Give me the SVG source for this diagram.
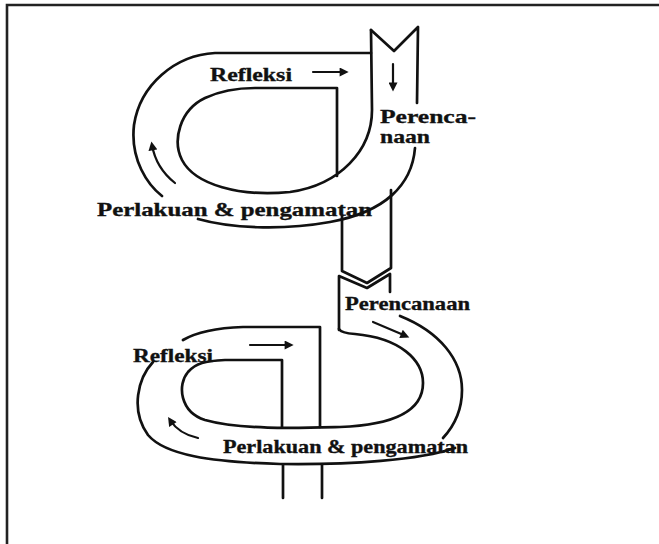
<svg xmlns="http://www.w3.org/2000/svg" width="659" height="544" viewBox="0 0 659 544">
<style>
.ln{fill:none;stroke:#111;stroke-width:2.7;stroke-linecap:round;stroke-linejoin:round}
.ar{fill:none;stroke:#111;stroke-width:2.2;stroke-linecap:round}
.fr{fill:none;stroke:#222;stroke-width:2.6}
.tx{font-family:"Liberation Serif","Times New Roman",serif;font-weight:bold;font-size:19px;fill:#111;stroke:#111;stroke-width:0.35}
</style>
<defs>
<marker id="ah" viewBox="0 0 10 10" refX="6" refY="5" markerWidth="10" markerHeight="9" markerUnits="userSpaceOnUse" orient="auto">
<path d="M0,0 L10,5 L0,10 Z" fill="#111"/>
</marker>
</defs>
<rect width="659" height="544" fill="#fff"/>
<g id="frame">
<path class="fr" d="M7,544 L7,5 L659,5"/>
</g>
<g id="connectors">
<!-- upper loop -->
<path class="ln" d="M371,30 L394,51 L418,27 L417,103"/>
<path class="ln" d="M371,30 L372,110 C372,150 340,185 290,192 C240,197 195,185 182,160 C172,140 180,110 205,98 C220,91 235,88 255,88 L337,88 L337,176"/>
<path class="ln" d="M371,53 L215,53 C175,55 140,85 134,125 C130,160 148,185 162,196"/>
<path class="ln" d="M415,148 C412,185 385,212 330,222 C280,231 230,228 198,219"/>
<!-- middle column -->
<path class="ln" d="M342,216 L342,271 L367,283 L391,268 L391,190"/>
<path class="ln" d="M339,330 L339,276 L367,288 L390,274 L390,292"/>
<!-- lower loop -->
<path class="ln" d="M339,329 Q341,333 355,334 C400,338 423,360 423,383 C423,410 395,425 340,427 C300,428 240,430 205,420 C180,412 177,385 188,372 C196,363 205,361 225,360 L282,360 L282,427"/>
<path class="ln" d="M183,340 C195,333 215,328 243,327 L320,327 L320,427"/>
<path class="ln" d="M400,316 C440,332 462,360 462,390 C462,410 455,425 443,438"/>
<path class="ln" d="M153,362 C138,378 130,410 148,435 C165,455 210,462 280,464 C350,465 420,460 455,448"/>
<path class="ln" d="M283,465 L283,498 M322,465 L322,498"/>
<!-- arrows -->
<path class="ar" d="M313,72 L345,72" marker-end="url(#ah)"/>
<path class="ar" d="M393,64 L393,88" marker-end="url(#ah)"/>
<path class="ar" d="M175,183 Q156,168 152,145" marker-end="url(#ah)"/>
<path class="ar" d="M250,345 L290,345" marker-end="url(#ah)"/>
<path class="ar" d="M373,322 L406,336" marker-end="url(#ah)"/>
<path class="ar" d="M198,438 Q179,434 170,420" marker-end="url(#ah)"/>
</g>
<g id="labels">
<text class="tx" x="210" y="81" textLength="82" lengthAdjust="spacingAndGlyphs">Refleksi</text>
<text class="tx" x="380" y="123" textLength="96" lengthAdjust="spacingAndGlyphs">Perenca-</text>
<text class="tx" x="380" y="143" textLength="50" lengthAdjust="spacingAndGlyphs">naan</text>
<text class="tx" x="97" y="216" textLength="275" lengthAdjust="spacingAndGlyphs">Perlakuan &amp; pengamatan</text>
<text class="tx" x="345" y="310" textLength="125" lengthAdjust="spacingAndGlyphs">Perencanaan</text>
<text class="tx" x="133" y="362" textLength="80" lengthAdjust="spacingAndGlyphs">Refleksi</text>
<text class="tx" x="223" y="453" textLength="245" lengthAdjust="spacingAndGlyphs">Perlakuan &amp; pengamatan</text>
</g>
</svg>
